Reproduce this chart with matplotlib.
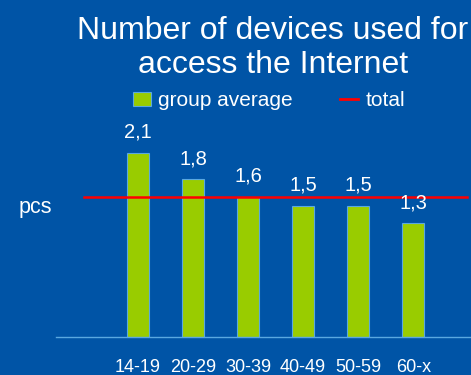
import matplotlib
matplotlib.use("Agg")
import matplotlib.pyplot as plt
from matplotlib.patches import Patch
from matplotlib.lines import Line2D

categories = ["14-19", "20-29", "30-39", "40-49", "50-59", "60-x"]
group_average = [2.1, 1.8, 1.6, 1.5, 1.5, 1.3]
value_labels = ["2,1", "1,8", "1,6", "1,5", "1,5", "1,3"]
total = 1.6

BG = "#0054A6"
BAR = "#99CC00"
EDGE = "#5AA8E0"
plt.rcParams["font.family"] = ["Liberation Sans", "DejaVu Sans"]

W, H = 471, 375
fig = plt.figure(figsize=(W / 100, H / 100), dpi=100, facecolor=BG)

# axes: left edge at x=56 px, baseline at y=337 px
x_left, x_right = 56, 471
y_base, y_top = 337, 140
ax = fig.add_axes([x_left / W, (H - y_base) / H, (x_right - x_left) / W, (y_base - y_top) / H])
ax.set_facecolor(BG)

xs = list(range(len(categories)))
ax.bar(xs, group_average, width=0.4, color=BAR, edgecolor=EDGE, linewidth=0.8, zorder=2)
ax.plot([-0.98, 5.98], [total, total], color="#FF0000", linewidth=1.8, zorder=3)

for x, v, lab in zip(xs, group_average, value_labels):
    ax.annotate(lab, (x, v), xytext=(0, 8), textcoords="offset points",
                ha="center", va="bottom", color="white", fontsize=14.5)

ax.set_xlim(-1.49, 6.05)
ax.set_ylim(0, (y_base - y_top) / 87.6)
ax.set_xticks(xs)
ax.set_xticklabels(categories, color="white", fontsize=13)
ax.tick_params(axis="x", length=0, pad=16)
ax.set_yticks([])
for s in ["top", "right", "left"]:
    ax.spines[s].set_visible(False)
ax.spines["bottom"].set_color(EDGE)
ax.spines["bottom"].set_linewidth(1)

fig.text(35 / W, 1 - 207 / H, "pcs", color="white", fontsize=15.5, ha="center", va="center")

fig.text(273 / W, 1 - 48 / H, "Number of devices used for\naccess the Internet",
         color="white", fontsize=23, ha="center", va="center", linespacing=1.18)

handles = [Patch(facecolor=BAR, edgecolor=EDGE, linewidth=0.8),
           Line2D([0], [0], color="#FF0000", linewidth=2)]
leg = fig.legend(handles, ["group average", "total"], loc="center",
                 bbox_to_anchor=(269 / W, 1 - 101 / H), ncol=2, frameon=False,
                 fontsize=15, handlelength=0.87, handleheight=0.65, handletextpad=0.34,
                 columnspacing=2.26, borderpad=0)
for t in leg.get_texts():
    t.set_color("white")

fig.savefig("out.png", dpi=100, facecolor=BG)
